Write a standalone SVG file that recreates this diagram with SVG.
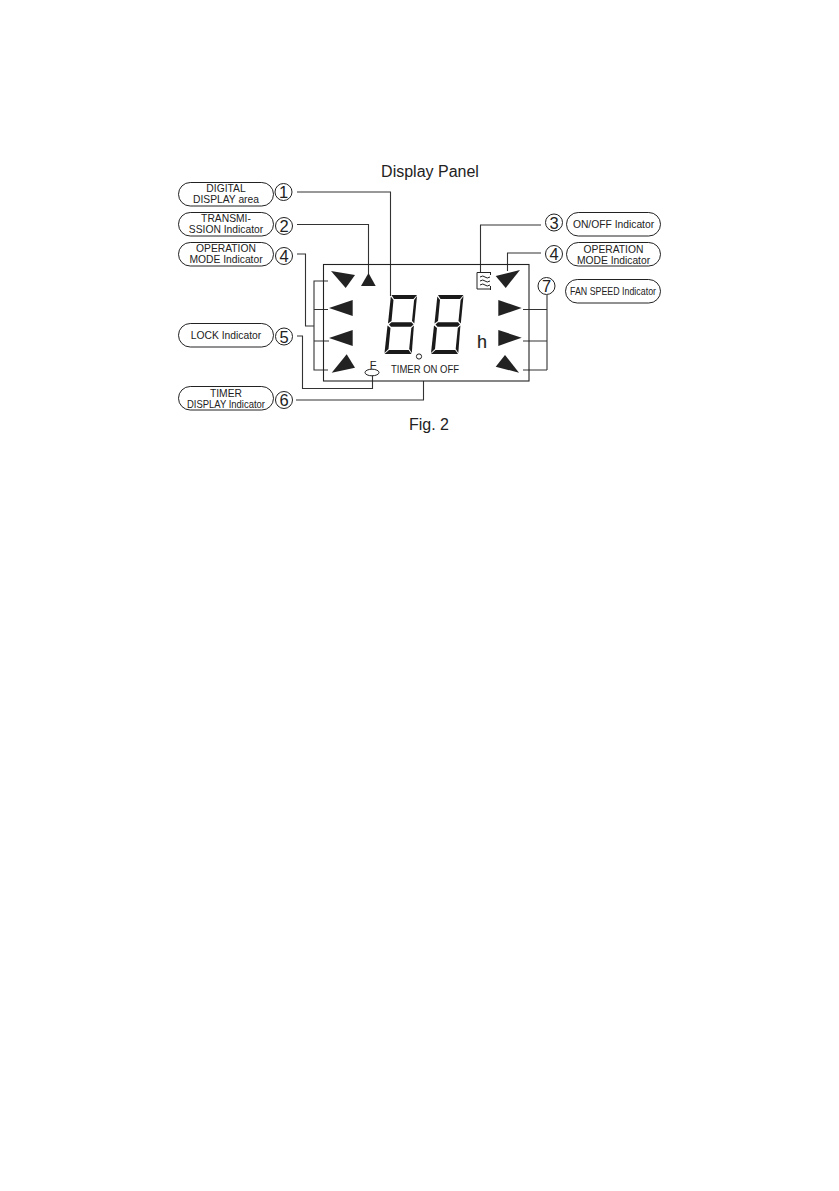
<svg xmlns="http://www.w3.org/2000/svg" width="839" height="1191" viewBox="0 0 839 1191">
<style>
text{font-family:"Liberation Sans",Arial,sans-serif;fill:#222;text-anchor:middle}
.t{font-size:10.300px}
.n{font-size:16.500px}
.title{font-size:16px}
.pill{fill:#fff;stroke:#222;stroke-width:1}
.c{fill:#fff;stroke:#222;stroke-width:1}
.l{fill:none;stroke:#333;stroke-width:1.100}
.a{fill:#222;stroke:none}
</style>
<defs>
<g id="digit" fill="#1a1a1a">
<polygon points="8,0 33.500,0 30,4 10.500,4"/>
<polygon points="7.300,1.500 10,5 8,26 4.500,28.500"/>
<polygon points="33.500,1 30.600,5 28.500,26 30.800,28.500"/>
<polygon points="5.500,29.500 8,27.300 28,27.300 30,29.500 27.500,31.700 7.500,31.700"/>
<polygon points="4,30.500 7,33 5,54 1,58"/>
<polygon points="30.400,30.500 27.800,33 25.700,54 28.300,58"/>
<polygon points="5.500,55 25.200,55 28,59 1,59"/>
</g>
</defs>
<rect width="839" height="1191" fill="#fff"/>
<text class="title" x="430" y="177">Display Panel</text>
<text class="title" x="429" y="430">Fig. 2</text>
<g id="connectors">
<path class="l" d="M297 192H390.500V296"/>
<path class="l" d="M297 224.500H368.500V274"/>
<path class="l" d="M297 254H305.500V326H314"/>
<path class="l" d="M328 281H314V370H328M314 309.500H328M314 341H329"/>
<path class="l" d="M297 336H302.500V388.500H372.500V375"/>
<path class="l" d="M296 400H423.500V381"/>
<path class="l" d="M541 225H480.500V272"/>
<path class="l" d="M541 253H507.500V271"/>
<path class="l" d="M547 295V370M523 309.500H547M523 341H547M523 370H547"/>
</g>
<g id="panel">
<rect x="323.500" y="264.500" width="205.500" height="116.500" fill="none" stroke="#222" stroke-width="1.100"/>
<polygon class="a" points="331,271 355,275 345.700,288"/>
<polygon class="a" points="361,286 368.500,273 375.700,286"/>
<polygon class="a" points="329,308 352.700,300 352.700,316"/>
<polygon class="a" points="329,338 352.700,330 352.700,346"/>
<polygon class="a" points="331.700,372.700 355,367.700 346.700,354.300"/>
<polygon class="a" points="495.700,276 520,270 505.700,288"/>
<polygon class="a" points="498.300,300 521.700,308 498.300,316"/>
<polygon class="a" points="498.300,330 521.700,337.700 498.300,346"/>
<polygon class="a" points="495.700,366.700 519,372.700 505,355"/>
<use href="#digit" x="383.500" y="295"/>
<use href="#digit" x="430" y="295"/>
<circle cx="419" cy="356.500" r="2.600" fill="none" stroke="#222" stroke-width="1"/>
<text x="482" y="347.500" font-size="18" stroke="#222" stroke-width=".15">h</text>
<text x="425" y="372.500" font-size="10.300" textLength="68" lengthAdjust="spacingAndGlyphs">TIMER ON OFF</text>
<text x="373" y="368.500" font-size="11">F</text>
<ellipse cx="372" cy="372.500" rx="7" ry="3.300" fill="#fff" stroke="#222" stroke-width="1"/>
<path d="M477 272.500H491M477 272.500V289M477 289H491M490.500 272V275M490.500 286V290" fill="none" stroke="#222" stroke-width="1"/>
<path d="M480 277Q483 275 485 277T490 277M480 281Q483 279 485 281T490 281M480 285Q483 283 485 285T490 285" fill="none" stroke="#222" stroke-width="1"/>
</g>
<g id="node-digital"><rect class="pill" x="178.500" y="182.500" width="95" height="23.500" rx="11.750"/><text class="t" x="226" y="192">DIGITAL</text><text class="t" x="226" y="203">DISPLAY area</text><circle class="c" cx="283.500" cy="192" r="8.500"/><text class="n" x="283.500" y="198">1</text></g>
<g id="node-transmission"><rect class="pill" x="178.500" y="212.500" width="95" height="23.500" rx="11.750"/><text class="t" x="226" y="222">TRANSMI-</text><text class="t" x="226" y="233">SSION Indicator</text><circle class="c" cx="284" cy="226" r="8.500"/><text class="n" x="284" y="232">2</text></g>
<g id="node-opmode-left"><rect class="pill" x="178.500" y="242.500" width="95" height="23.500" rx="11.750"/><text class="t" x="226" y="252">OPERATION</text><text class="t" x="226" y="263">MODE Indicator</text><circle class="c" cx="284" cy="256" r="8.500"/><text class="n" x="284" y="262">4</text></g>
<g id="node-lock"><rect class="pill" x="178.500" y="323.500" width="95" height="23.500" rx="11.750"/><text class="t" x="226" y="339">LOCK Indicator</text><circle class="c" cx="284" cy="336.500" r="8.500"/><text class="n" x="284" y="342.500">5</text></g>
<g id="node-timer"><rect class="pill" x="178.500" y="386.500" width="95" height="23.500" rx="11.750"/><text class="t" x="226" y="397">TIMER</text><text class="t" x="226" y="407.500" textLength="78" lengthAdjust="spacingAndGlyphs">DISPLAY Indicator</text><circle class="c" cx="284" cy="400" r="8.500"/><text class="n" x="284" y="406">6</text></g>
<g id="node-onoff"><rect class="pill" x="566.500" y="212.500" width="94" height="23.500" rx="11.750"/><text class="t" x="613.500" y="227.500">ON/OFF Indicator</text><circle class="c" cx="554" cy="222.500" r="8.500"/><text class="n" x="554" y="228.500">3</text></g>
<g id="node-opmode-right"><rect class="pill" x="566.500" y="242.500" width="94" height="23.500" rx="11.750"/><text class="t" x="613.500" y="253">OPERATION</text><text class="t" x="613.500" y="264">MODE Indicator</text><circle class="c" cx="554" cy="254" r="8.500"/><text class="n" x="554" y="260">4</text></g>
<g id="node-fan"><rect class="pill" x="565.500" y="279.500" width="95" height="23.500" rx="11.750"/><text x="613" y="295" font-size="10.300" textLength="86" lengthAdjust="spacingAndGlyphs">FAN SPEED Indicator</text><circle class="c" cx="546.500" cy="286" r="8.500"/><text class="n" x="546.500" y="292">7</text></g>
</svg>
